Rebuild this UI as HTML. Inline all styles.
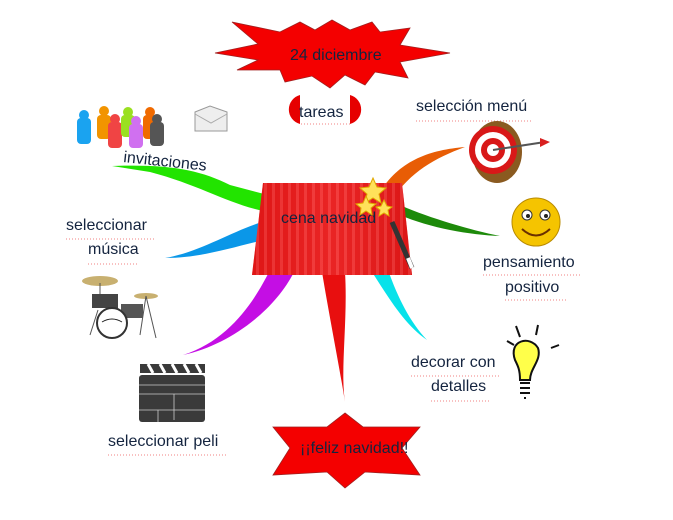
<!DOCTYPE html>
<html><head><meta charset="utf-8"><style>
html,body{margin:0;padding:0;background:#fff;width:673px;height:520px;overflow:hidden}
svg text{font-family:"Liberation Sans",sans-serif;fill:#14243f;font-size:16px}
</style></head><body>
<svg width="673" height="520" viewBox="0 0 673 520" xmlns="http://www.w3.org/2000/svg">
<defs>
<linearGradient id="cur" x1="0" x2="1">
<stop offset="0" stop-color="#d81010"/><stop offset=".5" stop-color="#f03030"/><stop offset="1" stop-color="#d01010"/></linearGradient>
<pattern id="pl" width="8" height="10" patternUnits="userSpaceOnUse"><rect width="8" height="10" fill="#e41b1b"/><rect width="3" height="10" fill="#f54a4a"/></pattern>
</defs>
<path d="M112,166 C170,164 200,170 230,185 L268,195 L268,212 C230,205 200,185 150,172 Z" fill="#22e400"/>
<path d="M165,258 C200,252 230,232 262,222 L264,240 C230,248 200,258 165,258 Z" fill="#0a97e8"/>
<path d="M183,355 C230,340 255,300 270,270 L294,272 C275,310 230,345 183,355 Z" fill="#c40ee4"/>
<path d="M322,272 C330,320 340,370 345,402 C340,370 348,320 345,272 Z" fill="#e80f0f"/>
<path d="M372,272 C390,300 405,325 427,340 C410,322 398,298 388,270 Z" fill="#07e2ea"/>
<path d="M400,215 C430,228 470,235 500,236 C470,230 430,218 402,206 Z" fill="#1d8a0a"/>
<path d="M380,192 C400,160 430,150 465,147 C435,158 410,172 392,200 Z" fill="#e85d05"/>
<path d="M263,183 L402,183 L412,275 L252,275 Z" fill="url(#pl)"/>
<path d="M263,183 L402,183 L412,275 L252,275 Z" fill="url(#cur)" opacity=".45"/>
<text x="281" y="223" font-size="15">cena navidad</text>
<polygon points="373,178 377,187 386,188 379,194 381,203 373,198 365,203 367,194 360,188 369,187" fill="#ffe15a" stroke="#e0a800"/>
<polygon points="366,196 369,203 376,204 371,208 372,215 366,211 360,215 361,208 356,204 363,203" fill="#ffe15a" stroke="#e0a800"/>
<polygon points="384,200 387,206 392,207 388,210 389,216 384,213 379,216 380,210 376,207 381,206" fill="#ffe15a" stroke="#e0a800"/>
<line x1="392" y1="222" x2="412" y2="268" stroke="#333" stroke-width="5"/>
<line x1="408" y1="258" x2="412" y2="268" stroke="#fff" stroke-width="4"/>
<polygon points="215,53 258,44 232,22 280,32 300,22 315,30 332,20 350,30 372,22 380,32 410,28 400,45 450,53 400,62 408,78 375,72 365,85 345,75 330,88 312,76 285,82 280,70 237,70 258,60" fill="#f40000" stroke="#a02020" stroke-width=".8"/>
<text x="290" y="60" font-size="14">24 diciembre</text>
<path d="M300,95 A15,15 0 0 0 300,124 Z" fill="#e60000"/>
<path d="M350,95 A15,15 0 0 1 350,124 Z" fill="#e60000"/>
<text x="299" y="117">tareas</text>
<line x1="301" y1="124" x2="350" y2="124" stroke="#f08080" stroke-dasharray="1,2"/>
<polygon points="345,413 363,427 420,427 402,448 420,475 365,472 345,488 327,472 273,475 290,448 273,427 327,427" fill="#f40000" stroke="#a02020" stroke-width=".8"/>
<text x="300" y="453" font-size="13">¡¡feliz navidad!!</text>
<text x="416" y="111">selección menú</text>
<line x1="416" y1="121" x2="532" y2="121" stroke="#f08080" stroke-dasharray="1,2"/>
<text x="123" y="162" transform="rotate(6 123 162)">invitaciones</text>
<text x="66" y="230">seleccionar</text>
<line x1="66" y1="239" x2="156" y2="239" stroke="#f08080" stroke-dasharray="1,2"/>
<text x="88" y="254">música</text>
<line x1="88" y1="264" x2="138" y2="264" stroke="#f08080" stroke-dasharray="1,2"/>
<text x="483" y="267">pensamiento</text>
<line x1="483" y1="275" x2="580" y2="275" stroke="#f08080" stroke-dasharray="1,2"/>
<text x="505" y="292">positivo</text>
<line x1="505" y1="300" x2="566" y2="300" stroke="#f08080" stroke-dasharray="1,2"/>
<text x="411" y="367">decorar con</text>
<line x1="411" y1="376" x2="500" y2="376" stroke="#f08080" stroke-dasharray="1,2"/>
<text x="431" y="391">detalles</text>
<line x1="431" y1="401" x2="490" y2="401" stroke="#f08080" stroke-dasharray="1,2"/>
<text x="108" y="446">seleccionar peli</text>
<line x1="108" y1="455" x2="228" y2="455" stroke="#f08080" stroke-dasharray="1,2"/>
<ellipse cx="497" cy="152" rx="25" ry="31" fill="#8a5a20"/>
<circle cx="493" cy="150" r="24" fill="#d81818"/>
<circle cx="493" cy="150" r="18" fill="#fff"/>
<circle cx="493" cy="150" r="12" fill="#d81818"/>
<circle cx="493" cy="150" r="6" fill="#fff"/>
<line x1="493" y1="150" x2="545" y2="142" stroke="#555" stroke-width="2"/>
<path d="M540,138 L550,142 L540,147 Z" fill="#d82020"/>
<circle cx="536" cy="222" r="24" fill="#f5c400" stroke="#b88a00"/>
<circle cx="527" cy="215" r="5" fill="#fff" stroke="#333"/><circle cx="545" cy="215" r="5" fill="#fff" stroke="#333"/>
<circle cx="528" cy="216" r="2" fill="#222"/><circle cx="546" cy="216" r="2" fill="#222"/>
<path d="M522,229 Q536,242 550,229" stroke="#6a3000" stroke-width="2" fill="none"/>
<path d="M515,360 C508,340 530,335 538,348 C542,360 530,368 530,380 L520,380 C520,370 518,366 515,360 Z" fill="#ffff4a" stroke="#111" stroke-width="2"/>
<path d="M520,383 L530,383 M520,388 L530,388 M520,393 L530,393 M524,398 L526,398" stroke="#111" stroke-width="2"/>
<path d="M516,326 L520,337 M538,325 L536,335 M507,341 L514,345 M551,348 L559,345" stroke="#111" stroke-width="2"/>
<g>
<rect x="77" y="118" width="14" height="26" rx="4" fill="#1aa3f0"/><circle cx="84" cy="115" r="5" fill="#1aa3f0"/>
<rect x="97" y="115" width="14" height="24" rx="4" fill="#f29400"/><circle cx="104" cy="111" r="5" fill="#f29400"/>
<rect x="108" y="122" width="14" height="26" rx="4" fill="#f04444"/><circle cx="115" cy="119" r="5" fill="#f04444"/>
<rect x="121" y="115" width="14" height="22" rx="4" fill="#9ae020"/><circle cx="128" cy="112" r="5" fill="#9ae020"/>
<rect x="129" y="124" width="14" height="24" rx="4" fill="#d070f0"/><circle cx="136" cy="121" r="5" fill="#d070f0"/>
<rect x="143" y="115" width="14" height="24" rx="4" fill="#f06a00"/><circle cx="150" cy="112" r="5" fill="#f06a00"/>
<rect x="150" y="122" width="14" height="24" rx="4" fill="#555"/><circle cx="157" cy="119" r="5" fill="#555"/>
</g>
<path d="M195,112 L210,106 L227,112 L227,131 L195,131 Z" fill="#eee" stroke="#999"/>
<path d="M195,114 L211,123 L227,114" fill="none" stroke="#aaa"/>
<ellipse cx="100" cy="281" rx="18" ry="5" fill="#c8b070"/>
<ellipse cx="146" cy="296" rx="12" ry="3" fill="#c8b070"/>
<rect x="92" y="294" width="26" height="14" fill="#444"/>
<rect x="121" y="304" width="22" height="14" fill="#555"/>
<circle cx="112" cy="323" r="15" fill="#fff" stroke="#333" stroke-width="2"/>
<path d="M102,322 Q112,316 122,322" stroke="#222" fill="none"/>
<path d="M90,335 L98,310 M140,335 L146,296 M146,296 L156,338 M100,283 L100,294" stroke="#555"/>
<rect x="139" y="375" width="66" height="47" rx="3" fill="#3a3a3a"/>
<path d="M140,364 L205,364 L205,373 L140,373 Z" fill="#3a3a3a"/>
<path d="M148,364 l5,9 M160,364 l5,9 M172,364 l5,9 M184,364 l5,9 M196,364 l5,9" stroke="#fff" stroke-width="3"/>
<path d="M139,385 H205 M139,394 H205 M174,394 V420 M139,410 H205 M158,410 V422" stroke="#ccc" stroke-width=".8"/>
</svg>
</body></html>
